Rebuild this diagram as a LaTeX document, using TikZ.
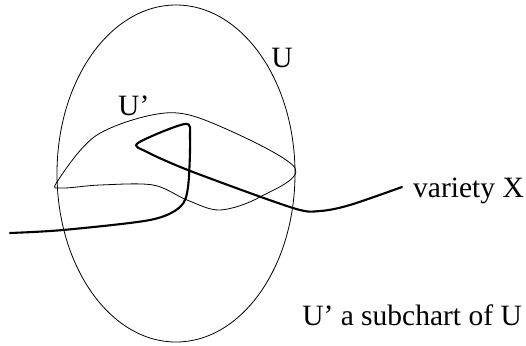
\documentclass[tikz,border=0pt]{standalone}
\usepackage{fontspec}
\setmainfont{Liberation Serif}
\usetikzlibrary{positioning}

\begin{document}
\begin{tikzpicture}[x=1pt, y=-1pt,
    thinline/.style={line width=0.8pt},
    thickline/.style={line width=2.1pt, line cap=round},
    lbl/.style={font=\fontsize{29.5}{34}\selectfont, inner sep=0pt}]
    \useasboundingbox (0,0) rectangle (526,345);
    % chart U
    \draw[thinline] (176,173.5) ellipse [x radius=119, y radius=168.5];
    % subchart U'
    \draw[thinline] plot[smooth cycle, tension=0.55] coordinates {
        (57,182) (97,135) (165,113) (217,125) (295,168)
        (260,197) (220,210) (187,200) (153,185) (100,185) (62,188)};
    % variety X
    \draw[thickline] plot[smooth, tension=0.5] coordinates {
        (10,233) (63,230) (150,220) (180,207) (188,187) (190,138)
        (185,124) (138,143) (147,152) (193,172) (293,208) (320,211)
        (350,205) (402,187)};
    \node[lbl, anchor=base] (chartU) at (282,67) {U};
    \node[lbl, anchor=base west] (chartUsub) at (118,115) {U'};
    \node[lbl, anchor=base west] (variety) at (413,197) {variety X};
    \node[lbl, anchor=base east] (caption) at (522,325) {U' a subchart of U};
\end{tikzpicture}
\end{document}
